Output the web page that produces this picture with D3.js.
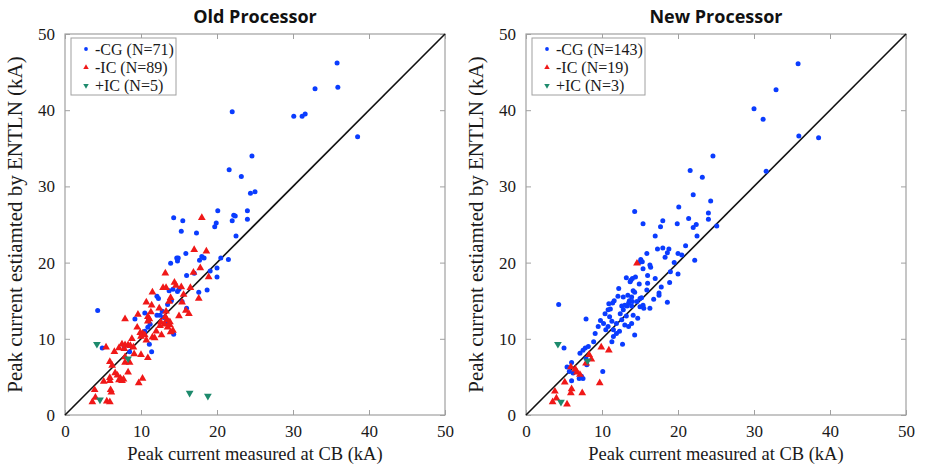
<!DOCTYPE html>
<html>
<head>
<meta charset="utf-8">
<script src="https://cdn.jsdelivr.net/npm/d3@7"></script>
<style>
  body { margin: 0; background: #fff; }
</style>
</head>
<body>
<svg id="chart" width="925" height="470"></svg>
<script>
// tick values shared by both panels
const TICKS = [0, 10, 20, 30, 40, 50];

// Old processor: [CB kA, ENTLN kA]
const oldCG = [
  [35.8,46.2],[32.9,42.8],[35.9,43.0],[30.1,39.2],[31.2,39.2],[31.6,39.5],[38.5,36.5],[24.6,34.0],
  [24.4,29.1],[25.0,29.3],[22.0,39.8],[21.6,32.2],[23.2,31.3],[20.1,26.8],[24.0,26.8],[22.2,26.2],
  [22.4,26.1],[22.0,25.5],[24.0,25.7],[14.3,25.9],[15.5,25.5],[19.9,25.2],[19.7,24.7],[15.3,24.1],
  [17.3,23.9],[22.5,23.5],[15.9,21.2],[14.7,20.6],[14.9,20.6],[14.8,20.2],[13.9,19.9],[18.0,20.8],
  [18.3,20.6],[17.7,20.3],[20.5,20.6],[21.5,20.4],[20.0,19.3],[20.0,18.1],[19.1,18.9],[16.0,18.3],
  [17.0,18.6],[14.2,16.5],[13.7,16.3],[15.0,16.5],[14.8,16.2],[18.7,16.4],[17.6,16.1],[12.1,15.6],
  [12.3,15.3],[4.3,13.7],[13.5,14.5],[14.0,15.0],[15.4,14.9],[9.2,12.6],[10.5,13.4],[12.1,13.1],
  [12.5,13.1],[4.9,8.8],[10.9,11.5],[11.2,11.9],[11.1,9.3],[11.4,8.3],[7.8,9.0],[8.5,8.3],
  [14.3,10.6],[11.0,12.4],[13.0,12.8],[16.0,14.0],[12.8,13.6],[10.5,11.0],[13.3,12.2]
];
const oldNegIC = [
  [18.0,25.9],[17.0,21.7],[18.6,21.5],[17.8,19.3],[16.9,18.7],[13.2,18.6],[18.9,18.1],[14.4,17.4],
  [14.6,17.0],[15.3,16.8],[12.9,16.7],[13.3,16.7],[11.5,16.1],[13.9,15.4],[17.6,15.3],[13.7,14.9],
  [10.7,14.8],[11.4,14.4],[15.4,14.8],[15.9,13.7],[9.6,13.2],[7.9,12.6],[10.9,12.9],[11.1,12.6],
  [10.9,12.3],[13.3,13.6],[13.2,12.9],[13.4,12.5],[13.8,12.2],[12.6,12.2],[13.1,11.9],[13.8,11.8],
  [12.5,11.7],[13.5,11.5],[13.9,10.9],[14.2,11.1],[5.4,8.9],[7.5,9.3],[7.9,9.2],[8.3,9.2],
  [8.6,9.1],[7.8,8.7],[7.1,8.8],[9.0,8.9],[9.9,10.8],[10.2,10.7],[10.5,10.5],[10.0,10.3],
  [10.7,9.8],[11.5,10.2],[11.8,10.1],[10.0,7.9],[9.1,8.0],[7.9,7.6],[7.9,6.9],[8.5,6.9],
  [5.9,7.0],[6.2,6.5],[6.6,5.5],[6.9,5.2],[8.3,5.6],[7.3,4.8],[7.5,4.5],[7.1,4.6],
  [7.7,4.7],[5.1,4.4],[5.9,4.9],[5.9,4.5],[10.9,7.5],[10.2,4.8],[9.7,4.2],[6.0,3.3],
  [6.1,3.0],[3.9,3.3],[4.0,2.3],[3.6,1.7],[5.5,1.8],[5.9,1.7],[12.0,11.0],[12.4,14.0],
  [11.3,13.5],[16.5,16.7],[16.3,13.3],[15.0,13.0],[9.5,11.5],[8.8,10.0],[12.7,10.5],[15.6,15.8],
  [6.5,8.3]
];
const oldPosIC = [[4.2,9.3],[8.3,7.4],[16.4,2.9],[18.8,2.5],[4.6,2.0]];

// New processor
const newCG = [
  [35.8,46.1],[32.9,42.7],[30.0,40.2],[31.2,38.8],[35.9,36.6],[38.5,36.4],[31.6,32.0],[24.6,34.0],
  [21.6,32.1],[23.2,31.2],[22.0,28.9],[24.3,28.1],[20.1,27.3],[24.0,26.5],[21.4,25.8],[24.0,25.7],
  [14.3,26.7],[18.0,25.5],[15.4,25.1],[17.7,24.7],[19.9,25.1],[22.0,24.6],[22.4,25.0],[25.1,24.8],
  [22.5,23.5],[17.0,23.5],[17.3,21.8],[18.0,21.9],[18.8,21.8],[18.6,21.3],[15.9,21.2],[20.0,21.2],
  [20.5,21.0],[18.3,20.7],[22.2,20.3],[15.1,20.4],[15.3,20.1],[14.9,20.0],[16.4,19.4],[15.4,19.2],
  [16.3,19.7],[19.0,18.8],[20.0,18.5],[16.0,18.3],[17.0,17.9],[13.2,18.0],[13.8,17.7],[14.0,17.9],
  [14.4,18.1],[13.7,17.5],[14.9,17.2],[18.9,17.4],[17.8,16.8],[15.9,16.4],[14.1,16.3],[14.3,16.1],
  [17.5,16.0],[17.5,15.7],[12.1,15.6],[12.8,15.5],[13.4,15.7],[13.9,15.5],[15.0,15.3],[15.2,15.4],
  [11.6,15.0],[11.4,14.7],[13.6,15.0],[14.0,14.9],[18.6,14.8],[12.6,14.3],[13.3,14.3],[13.9,14.3],
  [15.4,14.4],[15.5,14.0],[11.1,13.9],[16.3,14.0],[9.1,10.7],[9.5,11.6],[10.2,12.0],[10.4,13.3],
  [10.8,13.8],[11.0,12.9],[11.3,12.3],[10.8,11.6],[10.5,11.2],[11.5,11.2],[11.9,12.0],[12.4,13.3],
  [12.8,13.8],[13.0,14.4],[13.5,14.7],[14.6,14.9],[15.0,14.2],[14.1,13.1],[12.6,12.5],[13.0,11.8],
  [13.5,11.6],[13.9,12.0],[14.3,10.5],[11.5,10.3],[11.9,10.7],[11.3,9.6],[12.7,9.3],[8.9,9.6],
  [8.2,9.0],[7.8,8.8],[7.5,8.5],[7.1,8.1],[7.9,7.4],[6.0,6.9],[5.4,6.3],[5.7,5.7],
  [6.2,5.5],[7.3,5.1],[7.5,4.8],[7.0,4.8],[6.0,4.5],[5.0,8.8],[10.1,5.7],[8.0,6.6],
  [4.3,14.5],[7.9,12.6],[12.2,16.6],[16.8,15.2],[10.9,14.6],[9.8,12.4],[14.7,12.7],[12.3,11.0],
  [16.0,17.3],[19.5,20.0],[21.0,22.2],[13.2,13.0]
];
const newNegIC = [
  [14.6,19.9],[9.9,8.9],[10.9,8.5],[8.3,7.9],[7.9,6.8],[5.9,6.3],[6.7,5.6],[7.1,5.3],
  [5.1,4.3],[6.0,3.4],[5.9,2.9],[3.8,3.1],[4.0,2.2],[3.5,1.7],[5.4,1.4],[7.4,2.9],
  [9.7,4.2],[8.6,7.3],[6.5,6.0]
];
const newPosIC = [[4.2,9.3],[8.1,7.1],[4.6,1.7]];

const panels = [
  { title: 'Old Processor', left: 65, cg: oldCG, neg: oldNegIC, pos: oldPosIC,
    legend: ['-CG (N=71)', '-IC (N=89)', '+IC (N=5)'], legendW: 105 },
  { title: 'New Processor', left: 526, cg: newCG, neg: newNegIC, pos: newPosIC,
    legend: ['-CG (N=143)', '-IC (N=19)', '+IC (N=3)'], legendW: 113 }
];

const COLORS = { cg: '#0a3cff', neg: '#f01818', pos: '#1d8a6c' };
const SERIF = '"Liberation Serif", "DejaVu Serif", serif';
const plotW = 380;
const plotTop = 34, plotBottom = 415;

const svg = d3.select('#chart');

const triUp = d3.symbol().type(d3.symbolTriangle).size(26);

panels.forEach((p) => {
  const x = d3.scaleLinear().domain([0, 50]).range([p.left, p.left + plotW]);
  const y = d3.scaleLinear().domain([0, 50]).range([plotBottom, plotTop]);
  const g = svg.append('g');

  // box
  g.append('rect')
    .attr('x', p.left).attr('y', plotTop)
    .attr('width', plotW).attr('height', plotBottom - plotTop)
    .style('fill', 'none').style('stroke', '#a0a0a0').style('stroke-width', 1.2);

  // axes with inward ticks (matlab style, mirrored on top/right)
  const styleAxis = (sel) => {
    sel.select('.domain').remove();
    sel.selectAll('.tick line').style('stroke', '#a0a0a0');
    sel.selectAll('.tick text')
      .style('font-family', SERIF).style('font-size', '17px').style('fill', '#1a1a1a');
  };
  g.append('g').attr('transform', `translate(0,${plotBottom})`)
    .call(d3.axisBottom(x).tickValues(TICKS).tickSizeInner(-5).tickPadding(10))
    .call(styleAxis);
  g.append('g').attr('transform', `translate(${p.left},0)`)
    .call(d3.axisLeft(y).tickValues(TICKS).tickSizeInner(-5).tickPadding(10))
    .call(styleAxis);
  g.append('g').attr('transform', `translate(0,${plotTop})`)
    .call(d3.axisTop(x).tickValues(TICKS).tickSizeInner(-5).tickFormat(''))
    .call(styleAxis);
  g.append('g').attr('transform', `translate(${p.left + plotW},0)`)
    .call(d3.axisRight(y).tickValues(TICKS).tickSizeInner(-5).tickFormat(''))
    .call(styleAxis);

  // 1:1 line
  g.append('line')
    .attr('x1', x(0)).attr('y1', y(0)).attr('x2', x(50)).attr('y2', y(50))
    .style('stroke', '#111').style('stroke-width', 1.6);

  // points
  g.selectAll('.cg').data(p.cg).enter().append('circle')
    .attr('cx', (d) => x(d[0])).attr('cy', (d) => y(d[1])).attr('r', 2.5)
    .style('fill', COLORS.cg);
  g.selectAll('.neg').data(p.neg).enter().append('path')
    .attr('d', triUp)
    .attr('transform', (d) => `translate(${x(d[0])},${y(d[1])})`)
    .style('fill', COLORS.neg);
  g.selectAll('.pos').data(p.pos).enter().append('path')
    .attr('d', triUp)
    .attr('transform', (d) => `translate(${x(d[0])},${y(d[1])}) rotate(180)`)
    .style('fill', COLORS.pos);

  // title
  g.append('text')
    .attr('x', p.left + plotW / 2).attr('y', 23)
    .attr('text-anchor', 'middle')
    .style('font-family', '"Open Sans", "Liberation Sans", sans-serif')
    .style('font-weight', 'bold').style('font-size', '18px').style('fill', '#111')
    .text(p.title);

  // axis labels
  g.append('text')
    .attr('x', p.left + plotW / 2).attr('y', 460)
    .attr('text-anchor', 'middle')
    .style('font-family', SERIF).style('font-size', '18.5px').style('fill', '#1a1a1a')
    .text('Peak current measured at CB (kA)');
  g.append('text')
    .attr('transform', `translate(${p.left - 43},${(plotTop + plotBottom) / 2}) rotate(-90)`)
    .attr('text-anchor', 'middle')
    .style('font-family', SERIF).style('font-size', '21px').style('fill', '#1a1a1a')
    .text('Peak current estiamted by ENTLN (kA)');

  // legend
  const lg = g.append('g').attr('transform', `translate(${p.left + 6},${plotTop + 4})`);
  lg.append('rect')
    .attr('width', p.legendW).attr('height', 57)
    .style('fill', '#fff').style('stroke', '#a0a0a0').style('stroke-width', 1);
  const keys = ['cg', 'neg', 'pos'];
  keys.forEach((k, i) => {
    const cy = 11 + i * 18.3;
    if (k === 'cg') {
      lg.append('circle').attr('cx', 15).attr('cy', cy).attr('r', 1.9).style('fill', COLORS.cg);
    } else {
      lg.append('path').attr('d', d3.symbol().type(d3.symbolTriangle).size(13))
        .attr('transform', `translate(15,${cy})${k === 'pos' ? ' rotate(180)' : ''}`)
        .style('fill', COLORS[k]);
    }
    lg.append('text')
      .attr('x', 24).attr('y', cy + 5.5)
      .style('font-family', SERIF).style('font-size', '16px').style('fill', '#1a1a1a')
      .text(p.legend[i]);
  });
});
</script>
</body>
</html>
